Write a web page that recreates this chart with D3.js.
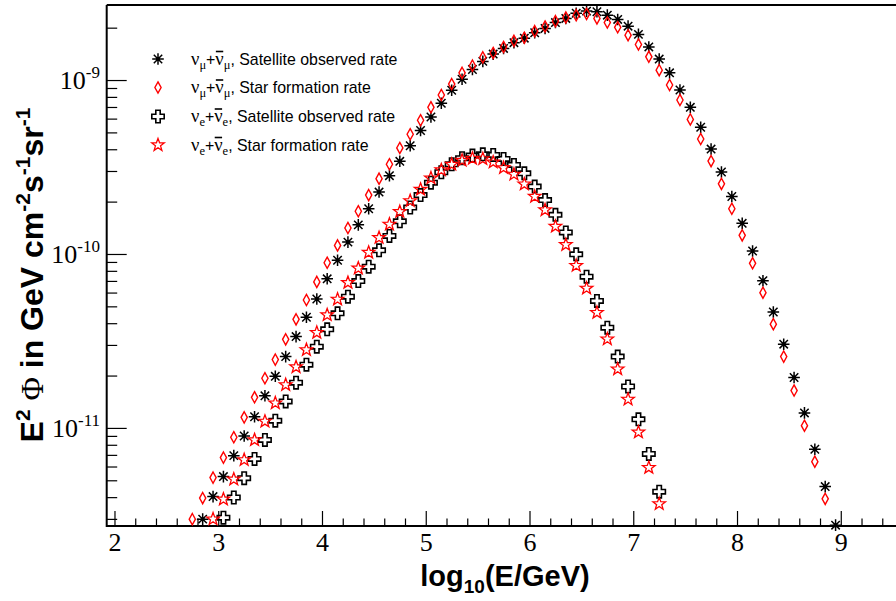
<!DOCTYPE html>
<html>
<head>
<meta charset="utf-8">
<script src="https://cdn.jsdelivr.net/npm/d3@7"></script>
<style>
  html, body { margin: 0; padding: 0; background: #fff; }
  svg { display: block; }
</style>
</head>
<body>
<svg id="chart" width="896" height="601"></svg>
<script>
// Shared energy grid, log10(E/GeV)
const energyGrid = [
  2.75, 2.85, 2.95, 3.05, 3.15, 3.25, 3.35, 3.45, 3.55, 3.65,
  3.75, 3.85, 3.95, 4.05, 4.15, 4.25, 4.35, 4.45, 4.55, 4.65,
  4.75, 4.85, 4.95, 5.05, 5.15, 5.25, 5.35, 5.45, 5.55, 5.65,
  5.75, 5.85, 5.95, 6.05, 6.15, 6.25, 6.35, 6.45, 6.55, 6.65,
  6.75, 6.85, 6.95, 7.05, 7.15, 7.25, 7.35, 7.45, 7.55, 7.65,
  7.75, 7.85, 7.95, 8.05, 8.15, 8.25, 8.35, 8.45, 8.55, 8.65,
  8.75, 8.85, 8.95
];

// E^2 Phi (GeV cm^-2 s^-1 sr^-1), muon neutrinos, satellite observed rate (from logE = 2.85)
const numuSatellite = [
  2.99e-12, 4.03e-12, 5.25e-12, 6.93e-12, 8.99e-12, 1.16e-11, 1.53e-11, 1.98e-11, 2.57e-11, 3.35e-11,
  4.33e-11, 5.51e-11, 7.20e-11, 9.20e-11, 1.17e-10, 1.47e-10, 1.82e-10, 2.27e-10, 2.82e-10, 3.41e-10,
  4.19e-10, 5.13e-10, 6.13e-10, 7.35e-10, 8.73e-10, 1.01e-9, 1.15e-9, 1.28e-9, 1.41e-9, 1.52e-9,
  1.64e-9, 1.74e-9, 1.87e-9, 1.98e-9, 2.14e-9, 2.26e-9, 2.42e-9, 2.49e-9, 2.47e-9, 2.36e-9,
  2.23e-9, 2.04e-9, 1.83e-9, 1.55e-9, 1.32e-9, 1.10e-9, 8.76e-10, 6.97e-10, 5.35e-10, 4.01e-10,
  2.96e-10, 2.14e-10, 1.50e-10, 1.04e-10, 7.02e-11, 4.64e-11, 3.03e-11, 1.95e-11, 1.22e-11, 7.54e-12,
  4.60e-12, 2.76e-12
];

// Muon neutrinos, star formation rate (from logE = 2.75)
const numuStarFormation = [
  2.99e-12, 3.95e-12, 5.18e-12, 6.75e-12, 8.84e-12, 1.15e-11, 1.50e-11, 1.93e-11, 2.47e-11, 3.23e-11,
  4.21e-11, 5.44e-11, 6.91e-11, 8.90e-11, 1.12e-10, 1.41e-10, 1.76e-10, 2.18e-10, 2.71e-10, 3.28e-10,
  4.07e-10, 4.88e-10, 5.87e-10, 6.97e-10, 8.20e-10, 9.48e-10, 1.10e-9, 1.21e-9, 1.35e-9, 1.43e-9,
  1.55e-9, 1.68e-9, 1.75e-9, 1.91e-9, 2.03e-9, 2.18e-9, 2.29e-9, 2.36e-9, 2.40e-9, 2.26e-9,
  2.14e-9, 2.01e-9, 1.81e-9, 1.60e-9, 1.36e-9, 1.14e-9, 9.36e-10, 7.68e-10, 5.94e-10, 4.58e-10,
  3.42e-10, 2.53e-10, 1.82e-10, 1.28e-10, 8.84e-11, 5.99e-11, 3.95e-11, 2.57e-11, 1.64e-11, 1.03e-11,
  6.40e-12, 3.91e-12
];

// Electron neutrinos, satellite observed rate (from logE = 3.05)
const nueSatellite = [
  3.05e-12, 3.98e-12, 5.14e-12, 6.63e-12, 8.53e-12, 1.10e-11, 1.42e-11, 1.82e-11, 2.31e-11, 2.93e-11,
  3.69e-11, 4.56e-11, 5.68e-11, 6.99e-11, 8.45e-11, 1.05e-10, 1.27e-10, 1.54e-10, 1.85e-10, 2.18e-10,
  2.57e-10, 2.95e-10, 3.28e-10, 3.55e-10, 3.68e-10, 3.74e-10, 3.71e-10, 3.52e-10, 3.25e-10, 2.91e-10,
  2.44e-10, 2.04e-10, 1.68e-10, 1.33e-10, 9.96e-11, 7.40e-11, 5.37e-11, 3.77e-11, 2.57e-11, 1.73e-11,
  1.12e-11, 7.09e-12, 4.30e-12
];

// Electron neutrinos, star formation rate (from logE = 2.95)
const nueStarFormation = [
  2.99e-12, 3.89e-12, 5.07e-12, 6.55e-12, 8.53e-12, 1.09e-11, 1.39e-11, 1.77e-11, 2.24e-11, 2.81e-11,
  3.53e-11, 4.46e-11, 5.49e-11, 6.84e-11, 8.28e-11, 1.02e-10, 1.24e-10, 1.48e-10, 1.75e-10, 2.02e-10,
  2.35e-10, 2.73e-10, 3.04e-10, 3.27e-10, 3.45e-10, 3.54e-10, 3.52e-10, 3.37e-10, 3.13e-10, 2.87e-10,
  2.52e-10, 2.14e-10, 1.79e-10, 1.44e-10, 1.13e-10, 8.57e-11, 6.35e-11, 4.60e-11, 3.24e-11, 2.18e-11,
  1.46e-11, 9.45e-12, 5.91e-12, 3.66e-12
];

const xMajorTicks = [2, 3, 4, 5, 6, 7, 8, 9];
const yMajorTicks = [1e-11, 1e-10, 1e-9];
const yTickExponents = ["-11", "-10", "-9"];

const legendDescriptions = ["Satellite observed rate", "Star formation rate", "Satellite observed rate", "Star formation rate"];
const legendFlavours = ["\u03bc", "\u03bc", "e", "e"];

// ---------------------------------------------------------------
const svg = d3.select("#chart");
const W = 896, H = 601;
const plot = { left: 106.7, top: 5, bottom: 526, right: 913.4 };

const x = d3.scaleLinear().domain([1.925, 9.7]).range([plot.left, plot.right]);
const y = d3.scaleLog().domain([2.73e-12, 2.7e-9]).range([plot.bottom, plot.top]);

const serif = "'Liberation Serif', 'Times New Roman', serif";
const sans = "'Liberation Sans', Arial, Helvetica, sans-serif";

// Minor tick values: every 0.2 on x, 2..9 per decade on y
const xMinor = [];
for (let k = 0; k <= 38; k++) {
  const r = Math.round((2.0 + k * 0.2) * 10) / 10;
  if (Math.abs(r - Math.round(r)) > 1e-6) xMinor.push(r);
}
const yMinor = [];
[-12, -11, -10, -9].forEach(p => {
  for (let m = 2; m <= 9; m++) {
    const v = m * Math.pow(10, p);
    if (v > 2.73e-12 && v < 2.7e-9) yMinor.push(v);
  }
});

// ---------------- axes -----------------
const axisG = svg.append("g");

// x minor ticks
axisG.append("g")
  .attr("transform", `translate(0,${plot.bottom})`)
  .call(d3.axisBottom(x).tickValues(xMinor).tickSize(-7.5).tickSizeOuter(0).tickFormat(""))
  .call(g => g.select(".domain").remove())
  .call(g => g.selectAll("line").attr("stroke", "#000").attr("stroke-width", 1.2));

// x major ticks + labels
axisG.append("g")
  .attr("transform", `translate(0,${plot.bottom})`)
  .call(d3.axisBottom(x).tickValues(xMajorTicks).tickSize(-15).tickSizeOuter(0).tickPadding(7).tickFormat(d3.format("d")))
  .call(g => g.select(".domain").remove())
  .call(g => g.selectAll("line").attr("stroke", "#000").attr("stroke-width", 1.2))
  .call(g => g.selectAll("text").attr("font-family", serif).attr("font-size", 26).attr("fill", "#000"));

// y minor ticks
axisG.append("g")
  .attr("transform", `translate(${plot.left},0)`)
  .call(d3.axisLeft(y).tickValues(yMinor).tickSize(-10.5).tickSizeOuter(0).tickFormat(""))
  .call(g => g.select(".domain").remove())
  .call(g => g.selectAll("line").attr("stroke", "#000").attr("stroke-width", 1.2));

// y major ticks
axisG.append("g")
  .attr("transform", `translate(${plot.left},0)`)
  .call(d3.axisLeft(y).tickValues(yMajorTicks).tickSize(-20).tickSizeOuter(0).tickFormat(""))
  .call(g => g.select(".domain").remove())
  .call(g => g.selectAll("line").attr("stroke", "#000").attr("stroke-width", 1.2));

// y tick labels as powers of ten
yMajorTicks.forEach((v, i) => {
  const t = axisG.append("text")
    .attr("x", 100).attr("y", y(v) + 9)
    .attr("text-anchor", "end")
    .attr("font-family", serif).attr("font-size", 26).attr("fill", "#000");
  t.append("tspan").text("10");
  t.append("tspan").attr("font-size", 17).attr("dy", -11).text(yTickExponents[i]);
});

// frame: left, bottom and top lines
axisG.append("path")
  .attr("d", `M${plot.left},${plot.top}V${plot.bottom}H${W + 5}`)
  .attr("fill", "none").attr("stroke", "#000").attr("stroke-width", 2);
axisG.append("line")
  .attr("x1", plot.left).attr("x2", W + 5).attr("y1", plot.top).attr("y2", plot.top)
  .attr("stroke", "#000").attr("stroke-width", 2);

// ---------------- axis titles -----------------
const xt = svg.append("text")
  .attr("x", 505).attr("y", 586)
  .attr("text-anchor", "middle")
  .attr("font-family", sans).attr("font-weight", "bold").attr("font-size", 29).attr("fill", "#000");
xt.append("tspan").text("log");
xt.append("tspan").attr("font-size", 19).attr("dy", 7).text("10");
xt.append("tspan").attr("dy", -7).text("(E/GeV)");

const yt = svg.append("text")
  .attr("transform", "translate(43,275) rotate(-90)")
  .attr("text-anchor", "middle")
  .attr("font-family", sans).attr("font-weight", "bold").attr("font-size", 32).attr("fill", "#000");
yt.append("tspan").text("E");
yt.append("tspan").attr("font-size", 21).attr("dy", -13).text("2");
yt.append("tspan").attr("dy", 13).text(" ");
yt.append("tspan").attr("font-family", serif).attr("font-weight", "normal").text("\u03a6");
yt.append("tspan").text(" in GeV cm");
yt.append("tspan").attr("font-size", 21).attr("dy", -13).text("-2");
yt.append("tspan").attr("dy", 13).text("s");
yt.append("tspan").attr("font-size", 21).attr("dy", -13).text("-1");
yt.append("tspan").attr("dy", 13).text("sr");
yt.append("tspan").attr("font-size", 21).attr("dy", -13).text("-1");

// ---------------- markers -----------------
function starPath(ro, ri) {
  const pts = [];
  for (let k = 0; k < 10; k++) {
    const r = k % 2 === 0 ? ro : ri;
    const ang = -Math.PI / 2 + k * Math.PI / 5;
    pts.push([r * Math.cos(ang), r * Math.sin(ang)]);
  }
  return "M" + pts.map(p => p[0].toFixed(2) + "," + p[1].toFixed(2)).join("L") + "Z";
}
const a = 2.2, b = 6.2;
const markerDefs = {
  asterisk: {
    d: "M-5.8,0H5.8M0,-5.8V5.8M-4.2,-4.2L4.2,4.2M-4.2,4.2L4.2,-4.2",
    stroke: "#000", width: 1.5, dot: true
  },
  diamond: { d: "M0,-5.6L3.1,0L0,5.6L-3.1,0Z", stroke: "#ff0000", width: 1.4 },
  cross: {
    d: `M${-a},${-b}H${a}V${-a}H${b}V${a}H${a}V${b}H${-a}V${a}H${-b}V${-a}H${-a}Z`,
    stroke: "#000", width: 1.6
  },
  star: { d: starPath(6.6, 2.7), stroke: "#ff0000", width: 1.3 }
};

function drawMarker(g, kind, cx, cy) {
  const m = markerDefs[kind];
  const mg = g.append("g").attr("transform", `translate(${cx},${cy})`);
  mg.append("path").attr("d", m.d).attr("fill", "none")
    .attr("stroke", m.stroke).attr("stroke-width", m.width).attr("stroke-linejoin", "miter");
  if (m.dot) mg.append("circle").attr("r", 1.9).attr("fill", m.stroke);
}

const seriesList = [
  { values: numuSatellite, start: 1, marker: "asterisk" },
  { values: numuStarFormation, start: 0, marker: "diamond" },
  { values: nueSatellite, start: 3, marker: "cross" },
  { values: nueStarFormation, start: 2, marker: "star" }
];

const dataG = svg.append("g");
seriesList.forEach(s => {
  const xs = energyGrid.slice(s.start, s.start + s.values.length);
  const pts = s.values.map((v, i) => ({ e: xs[i], v }));
  const g = dataG.append("g");
  pts.forEach(p => drawMarker(g, s.marker, x(p.e), y(p.v)));
});

// ---------------- legend -----------------
const legendG = svg.append("g");
const legendRows = [59, 87.5, 116.5, 145];
seriesList.forEach((s, i) => {
  const ly = legendRows[i];
  drawMarker(legendG, s.marker, 158, ly);
  const t = legendG.append("text")
    .attr("x", 191).attr("y", ly + 5.5)
    .attr("font-family", sans).attr("font-size", 15.9).attr("fill", "#000");
  t.append("tspan").attr("font-family", serif).attr("font-size", 18.5).text("\u03bd");
  t.append("tspan").attr("font-family", serif).attr("font-size", 12.5).attr("dy", 4).text(legendFlavours[i]);
  t.append("tspan").attr("dy", -4).text("+");
  t.append("tspan").attr("font-family", serif).attr("font-size", 18.5).text("\u03bd");
  t.append("tspan").attr("font-family", serif).attr("font-size", 12.5).attr("dy", 4).text(legendFlavours[i]);
  t.append("tspan").attr("dy", -4).text(", " + legendDescriptions[i]);
  // bar over the antineutrino symbol
  const ext = t.node().getExtentOfChar(3);
  legendG.append("line")
    .attr("x1", ext.x + 0.5).attr("x2", ext.x + ext.width - 0.5)
    .attr("y1", ly - 7.5).attr("y2", ly - 7.5)
    .attr("stroke", "#000").attr("stroke-width", 1.6);
});
</script>
</body>
</html>
